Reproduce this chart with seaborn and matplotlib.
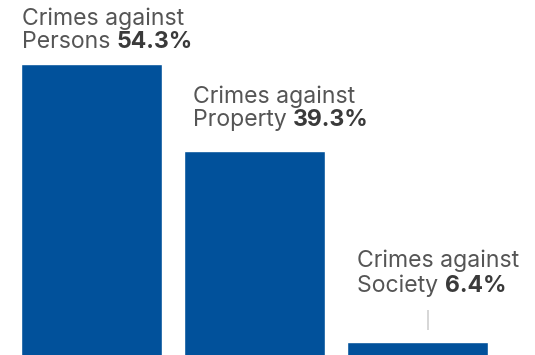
import matplotlib
matplotlib.use("Agg")
import matplotlib.pyplot as plt
import seaborn as sns
import pandas as pd

categories = ["Crimes against\nPersons", "Crimes against\nProperty", "Crimes against\nSociety"]
line1 = ["Crimes against", "Crimes against", "Crimes against"]
line2 = ["Persons", "Property", "Society"]
values = [54.3, 39.3, 6.4]
value_labels = ["54.3%", "39.3%", "6.4%"]

sns.set_theme(style="white")
plt.rcParams["font.family"] = ["Inter", "DejaVu Sans"]

W, H = 535, 355
fig = plt.figure(figsize=(W / 100, H / 100), dpi=100)
ax = fig.add_axes([0, 0, 1, 1])

df = pd.DataFrame({"category": categories, "value": values})
sns.barplot(data=df, x="category", y="value", color="#01519b", width=0.862,
            saturation=1, ax=ax)

# scale: zero at pixel 379 (below the figure), 5.8 px per unit
B, s = 379.0, 5.8
c0, step = 91.75, 163.0

# leader line above the small bar
ax.vlines(2 + (428 - 417.5) / step, (B - 330) / s, (B - 310) / s,
          color="#d0d0d0", lw=1.2)

ax.set_ylim((B - H) / s, B / s)
ax.set_xlim(-c0 / step, (W - c0) / step)
ax.axis("off")

fs = 16.6
text_pos = [(22, 25, 48), (193, 103, 126), (357, 267, 292)]
for (x, y1, y2), a, b, v in zip(text_pos, line1, line2, value_labels):
    fig.text(x / W, 1 - y1 / H, a, fontsize=fs, color="#555555", va="baseline", ha="left")
    t = fig.text(x / W, 1 - y2 / H, b + " ", fontsize=fs, color="#555555", va="baseline", ha="left")
    fig.canvas.draw()
    bb = t.get_window_extent()
    fig.text(bb.x1 / W, 1 - y2 / H, v, fontsize=fs, color="#3a3a3a", fontweight="bold",
             va="baseline", ha="left")

fig.savefig("out.png", dpi=100)
